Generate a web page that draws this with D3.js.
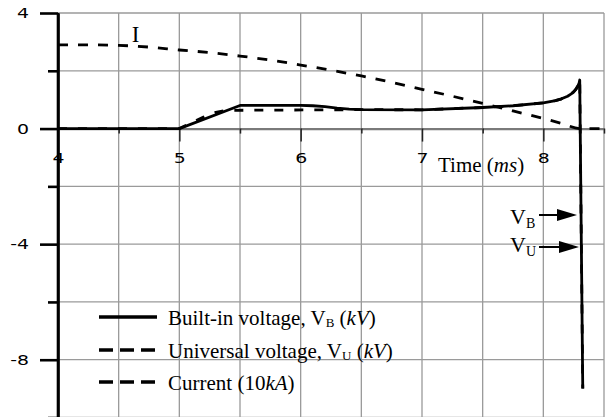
<!DOCTYPE html>
<html>
<head>
<meta charset="utf-8">
<script src="https://cdn.jsdelivr.net/npm/d3@7"></script>
<style>
  html, body { margin: 0; padding: 0; background: #fff; }
  svg { display: block; }
  .serif { font-family: "Liberation Serif", "Times New Roman", serif; fill: #000; }
</style>
</head>
<body>
<svg id="chart" width="607" height="417"></svg>
<script>
// Arc current, scaled to units of 10 kA
const currentTime   = [4, 4.25, 4.5, 4.75, 5, 5.25, 5.5, 5.75, 6, 6.25, 6.5, 6.75, 7, 7.25, 7.5, 7.75, 8, 8.15, 8.3, 8.5];
const currentValues = [2.9, 2.9, 2.88, 2.82, 2.72, 2.63, 2.51, 2.37, 2.2, 2.02, 1.82, 1.6, 1.36, 1.12, 0.87, 0.61, 0.35, 0.18, 0, 0];

// Built-in voltage V_B (kV)
const builtinTime   = [4, 5, 5.5, 6, 6.1, 6.2, 6.3, 6.4, 6.5, 7, 7.5, 7.75, 8, 8.1, 8.15, 8.2, 8.23, 8.25, 8.27, 8.285, 8.295, 8.3, 8.325];
const builtinValues = [0, 0, 0.8, 0.8, 0.79, 0.76, 0.71, 0.67, 0.655, 0.65, 0.73, 0.79, 0.89, 0.97, 1.03, 1.12, 1.2, 1.27, 1.37, 1.48, 1.58, 1.68, -9];

// Universal voltage V_U (kV)
const universalTime   = [4, 5, 5.1, 5.2, 5.3, 5.38, 6.5, 7, 7.5, 7.75, 8, 8.1, 8.15, 8.2, 8.23, 8.25, 8.27, 8.285, 8.295, 8.3, 8.325];
const universalValues = [0, 0, 0.2, 0.4, 0.56, 0.63, 0.655, 0.65, 0.73, 0.79, 0.89, 0.97, 1.03, 1.12, 1.2, 1.27, 1.37, 1.48, 1.58, 1.68, -9];

// Axis ticks
const xLabelTicks = [4, 5, 6, 7, 8];
const xMajorTicks = [5, 6, 7, 8];
const xMinorTicks = [4.5, 5.5, 6.5, 7.5, 8.5];
const xGrid       = [4.5, 5, 5.5, 6, 6.5, 7, 7.5, 8, 8.5];
const yMajorTicks = [4, 0, -4, -8];
const yMinorTicks = [2, -2, -6, -10];
const yGrid       = [4, 2, -2, -4, -6, -8, -10];

const svg = d3.select("#chart");

const x = d3.scaleLinear().domain([4, 8.5]).range([58, 604]);
const y = d3.scaleLinear().domain([-10, 4]).range([417.5, 13]);

// wide sans tick labels
const labelFont = "'DejaVu Sans', 'Liberation Sans', sans-serif";
const labelStretch = 1.35;
const plain = d => String(d);

// grid
svg.append("g").selectAll("line").data(xGrid).join("line")
  .attr("x1", d => x(d)).attr("x2", d => x(d))
  .attr("y1", y(4)).attr("y2", 417)
  .attr("stroke", "#9a9a9a").attr("stroke-width", 1.3);
svg.append("g").selectAll("line").data(yGrid).join("line")
  .attr("x1", x(4)).attr("x2", x(8.5))
  .attr("y1", d => y(d)).attr("y2", d => y(d))
  .attr("stroke", "#9a9a9a").attr("stroke-width", 1.3);

// x axis along zero
const x0 = y(0);
const xAxisMinor = svg.append("g").attr("transform", `translate(0,${x0})`)
  .call(d3.axisBottom(x).tickValues(xMinorTicks).tickSize(5).tickSizeOuter(0).tickFormat(""));
xAxisMinor.select(".domain").attr("stroke", "#7a7a7a").attr("stroke-width", 2.2);
xAxisMinor.selectAll(".tick line").attr("stroke", "#222").attr("stroke-width", 1.5);

const xAxisMajor = svg.append("g").attr("transform", `translate(0,${x0})`)
  .call(d3.axisBottom(x).tickValues(xMajorTicks).tickSize(13).tickSizeOuter(0).tickFormat(""));
xAxisMajor.select(".domain").remove();
xAxisMajor.selectAll(".tick line").attr("stroke", "#222").attr("stroke-width", 1.5);

const xAxisLabels = svg.append("g").attr("transform", `translate(0,${x0})`)
  .attr("font-family", labelFont).attr("font-size", 14)
  .call(d3.axisBottom(x).tickValues(xLabelTicks).tickSize(0).tickPadding(24).tickFormat(plain));
xAxisLabels.attr("font-family", labelFont).attr("font-size", 14);
xAxisLabels.select(".domain").remove();
xAxisLabels.selectAll("text").attr("fill", "#000")
  .attr("transform", `scale(${labelStretch},1)`);

// series
const line = d3.line().x(d => x(d[0])).y(d => y(d[1]));
const currentData   = d3.zip(currentTime, currentValues);
const builtinData   = d3.zip(builtinTime, builtinValues);
const universalData = d3.zip(universalTime, universalValues);

svg.append("path").datum(currentData)
  .attr("d", line.curve(d3.curveMonotoneX))
  .attr("fill", "none").attr("stroke", "#000").attr("stroke-width", 2.8)
  .attr("stroke-dasharray", "10,10");

line.curve(d3.curveLinear);
svg.append("path").datum(universalData)
  .attr("d", line)
  .attr("fill", "none").attr("stroke", "#000").attr("stroke-width", 2.8)
  .attr("stroke-dasharray", "9,11").attr("stroke-linejoin", "round");

svg.append("path").datum(builtinData)
  .attr("d", line)
  .attr("fill", "none").attr("stroke", "#000").attr("stroke-width", 2.8)
  .attr("stroke-linejoin", "round");

// y axis
const yMinor = svg.append("g").attr("transform", `translate(${x(4)},0)`)
  .call(d3.axisLeft(y).tickValues(yMinorTicks).tickSize(10).tickSizeOuter(0).tickFormat(""));
yMinor.select(".domain").attr("stroke", "#000").attr("stroke-width", 2.6);
yMinor.selectAll(".tick line").attr("stroke", "#000").attr("stroke-width", 2.6);

const yMajor = svg.append("g").attr("transform", `translate(${x(4)},0)`)
  .call(d3.axisLeft(y).tickValues(yMajorTicks).tickSize(18).tickSizeOuter(0).tickPadding(11).tickFormat(plain));
yMajor.attr("font-family", labelFont).attr("font-size", 14);
yMajor.select(".domain").remove();
yMajor.selectAll(".tick line").attr("stroke", "#000").attr("stroke-width", 2.6);
yMajor.selectAll("text").attr("fill", "#000")
  .attr("x", -29 / labelStretch)
  .attr("transform", `scale(${labelStretch},1)`);

// extend y axis line to bottom edge
svg.append("line").attr("x1", x(4)).attr("x2", x(4)).attr("y1", y(4)).attr("y2", 417)
  .attr("stroke", "#000").attr("stroke-width", 2.6);

// labels
svg.append("text").attr("class", "serif").attr("x", x(4.64)).attr("y", 42)
  .attr("font-size", 23).attr("text-anchor", "middle").text("I");

const tLabel = svg.append("text").attr("class", "serif").attr("x", 438).attr("y", 172).attr("font-size", 21);
tLabel.append("tspan").text("Time (");
tLabel.append("tspan").attr("font-style", "italic").text("ms");
tLabel.append("tspan").text(")");

// arrows marking the voltage collapse
const arrowLabels = [
  { main: "V", sub: "B", y: 215, tip: 577, base: 224 },
  { main: "V", sub: "U", y: 247, tip: 579, base: 252 }
];
arrowLabels.forEach(a => {
  svg.append("line").attr("x1", 539).attr("x2", a.tip - 16).attr("y1", a.y).attr("y2", a.y)
    .attr("stroke", "#000").attr("stroke-width", 2);
  svg.append("path")
    .attr("d", `M${a.tip - 20},${a.y - 6} L${a.tip},${a.y} L${a.tip - 20},${a.y + 6} Z`)
    .attr("fill", "#000");
  const t = svg.append("text").attr("class", "serif").attr("x", 510).attr("y", a.base).attr("font-size", 22);
  t.append("tspan").text(a.main);
  t.append("tspan").attr("font-size", 14).attr("dy", 4).text(a.sub);
});

// legend
const legendRows = [
  { y: 317, dash: null, parts: [["Built-in voltage, V", false], ["B", "sub"], [" (", false], ["kV", true], [")", false]] },
  { y: 350, dash: "14,7", parts: [["Universal voltage, V", false], ["U", "sub"], [" (", false], ["kV", true], [")", false]] },
  { y: 382, dash: "14,7", parts: [["Current (10", false], ["kA", true], [")", false]] }
];
legendRows.forEach(r => {
  svg.append("line").attr("x1", 99).attr("x2", 157).attr("y1", r.y).attr("y2", r.y)
    .attr("stroke", "#000").attr("stroke-width", 3.6)
    .attr("stroke-dasharray", r.dash);
  const t = svg.append("text").attr("class", "serif").attr("x", 168).attr("y", r.y + 8).attr("font-size", 21);
  let shifted = false;
  r.parts.forEach(([s, style]) => {
    const ts = t.append("tspan").text(s);
    if (style === "sub") { ts.attr("font-size", 13).attr("dy", 2); shifted = true; }
    else {
      if (shifted) { ts.attr("dy", -2); shifted = false; }
      if (style === true) ts.attr("font-style", "italic");
    }
  });
});
</script>
</body>
</html>
